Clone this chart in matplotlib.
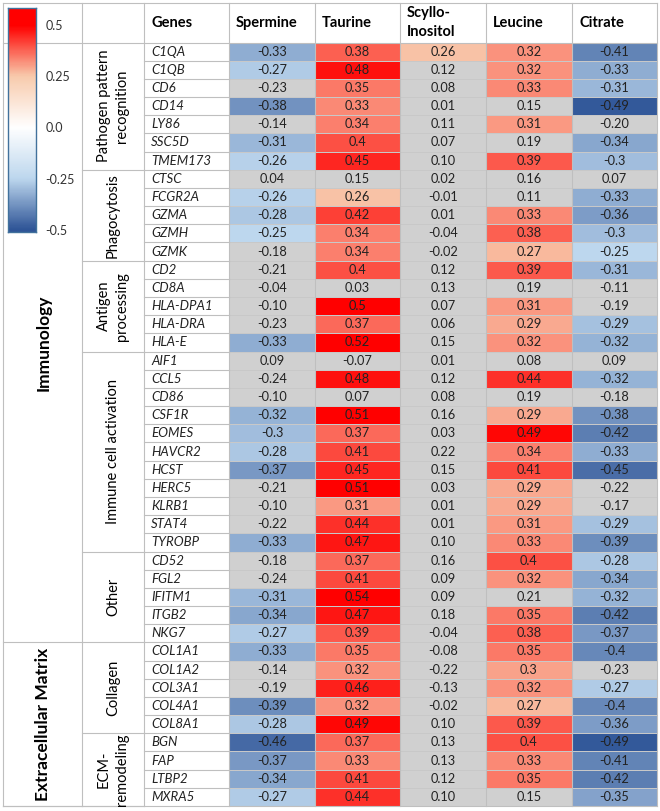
import numpy as np
import matplotlib
matplotlib.use("Agg")
import matplotlib.pyplot as plt
from matplotlib.colors import LinearSegmentedColormap, Normalize

plt.rcParams['font.family'] = ['Lato', 'DejaVu Sans']

metabolites = ["Spermine", "Taurine", "Scyllo-\nInositol", "Leucine", "Citrate"]

genes = ["C1QA", "C1QB", "CD6", "CD14", "LY86", "SSC5D", "TMEM173",
         "CTSC", "FCGR2A", "GZMA", "GZMH", "GZMK",
         "CD2", "CD8A", "HLA-DPA1", "HLA-DRA", "HLA-E",
         "AIF1", "CCL5", "CD86", "CSF1R", "EOMES", "HAVCR2", "HCST", "HERC5",
         "KLRB1", "STAT4", "TYROBP",
         "CD52", "FGL2", "IFITM1", "ITGB2", "NKG7",
         "COL1A1", "COL1A2", "COL3A1", "COL4A1", "COL8A1",
         "BGN", "FAP", "LTBP2", "MXRA5"]

# values kept as printed in the table
spermine = ["-0.33", "-0.27", "-0.23", "-0.38", "-0.14", "-0.31", "-0.26",
            "0.04", "-0.26", "-0.28", "-0.25", "-0.18",
            "-0.21", "-0.04", "-0.10", "-0.23", "-0.33",
            "0.09", "-0.24", "-0.10", "-0.32", "-0.3", "-0.28", "-0.37", "-0.21",
            "-0.10", "-0.22", "-0.33",
            "-0.18", "-0.24", "-0.31", "-0.34", "-0.27",
            "-0.33", "-0.14", "-0.19", "-0.39", "-0.28",
            "-0.46", "-0.37", "-0.34", "-0.27"]
taurine = ["0.38", "0.48", "0.35", "0.33", "0.34", "0.4", "0.45",
           "0.15", "0.26", "0.42", "0.34", "0.34",
           "0.4", "0.03", "0.5", "0.37", "0.52",
           "-0.07", "0.48", "0.07", "0.51", "0.37", "0.41", "0.45", "0.51",
           "0.31", "0.44", "0.47",
           "0.37", "0.41", "0.54", "0.47", "0.39",
           "0.35", "0.32", "0.46", "0.32", "0.49",
           "0.37", "0.33", "0.41", "0.44"]
scyllo = ["0.26", "0.12", "0.08", "0.01", "0.11", "0.07", "0.10",
          "0.02", "-0.01", "0.01", "-0.04", "-0.02",
          "0.12", "0.13", "0.07", "0.06", "0.15",
          "0.01", "0.12", "0.08", "0.16", "0.03", "0.22", "0.15", "0.03",
          "0.01", "0.01", "0.10",
          "0.16", "0.09", "0.09", "0.18", "-0.04",
          "-0.08", "-0.22", "-0.13", "-0.02", "0.10",
          "0.13", "0.13", "0.12", "0.10"]
leucine = ["0.32", "0.32", "0.33", "0.15", "0.31", "0.19", "0.39",
           "0.16", "0.11", "0.33", "0.38", "0.27",
           "0.39", "0.19", "0.31", "0.29", "0.32",
           "0.08", "0.44", "0.19", "0.29", "0.49", "0.34", "0.41", "0.29",
           "0.29", "0.31", "0.33",
           "0.4", "0.32", "0.21", "0.35", "0.38",
           "0.35", "0.3", "0.32", "0.27", "0.39",
           "0.4", "0.33", "0.35", "0.15"]
citrate = ["-0.41", "-0.33", "-0.31", "-0.49", "-0.20", "-0.34", "-0.3",
           "0.07", "-0.33", "-0.36", "-0.3", "-0.25",
           "-0.31", "-0.11", "-0.19", "-0.29", "-0.32",
           "0.09", "-0.32", "-0.18", "-0.38", "-0.42", "-0.33", "-0.45", "-0.22",
           "-0.17", "-0.29", "-0.39",
           "-0.28", "-0.34", "-0.32", "-0.42", "-0.37",
           "-0.4", "-0.23", "-0.27", "-0.4", "-0.36",
           "-0.49", "-0.41", "-0.42", "-0.35"]

subgroups = ["Pathogen pattern\nrecognition", "Phagocytosis", "Antigen\nprocessing",
             "Immune cell activation", "Other", "Collagen", "ECM-\nremodeling"]
subgroup_sizes = [7, 5, 5, 11, 5, 5, 4]
groups = ["Immunology", "Extracellular Matrix"]
group_sizes = [33, 9]

cbar_ticks = [0.5, 0.25, 0.0, -0.25, -0.5]
cbar_labels = ["0.5", "0.25", "0.0", "-0.25", "-0.5"]

labels = np.array([spermine, taurine, scyllo, leucine, citrate]).T
values = labels.astype(float)

# layout (pixels)
W, H = 660, 811
col_x = [3, 82, 144, 229, 315, 400, 486, 572, 657]
top, head_bot, bottom = 3, 42.5, 806
n = len(genes)
row_y = np.linspace(head_bot, bottom, n + 1)
line_c = "#BFBFBF"
lw = 0.8

cmap = LinearSegmentedColormap.from_list(
    "bwr_xl", [(0, "#2F5597"), (0.25, "#BDD7EE"), (0.5, "#FFFFFF"),
               (0.75, "#F8CBAD"), (1, "#FF0000")])
cmap.set_bad("#D0D0D0")
norm = Normalize(-0.5, 0.5)

fig = plt.figure(figsize=(W / 100, H / 100), dpi=100)
ax = fig.add_axes([0, 0, 1, 1])
ax.set_xlim(0, W)
ax.set_ylim(H, 0)
ax.axis("off")

shown = np.ma.masked_where(np.abs(values) < 0.25, values)
ax.pcolormesh(col_x[3:], row_y, shown, cmap=cmap, norm=norm,
              edgecolors="#C8C8C8", linewidth=0.7)

# values
for i in range(n):
    yc = (row_y[i] + row_y[i + 1]) / 2
    ax.text(col_x[2] + 7, yc, genes[i], style="italic", fontsize=9.5,
            va="center", ha="left", color="#222222")
    for j in range(len(metabolites)):
        xc = (col_x[3 + j] + col_x[4 + j]) / 2
        ax.text(xc, yc, labels[i, j], fontsize=9.2, va="center", ha="center",
                color="#222222")

# header
hy = (top + head_bot) / 2
ax.text(col_x[2] + 7, hy, "Genes", fontweight="bold", fontsize=10.5,
        va="center", ha="left")
for j, m in enumerate(metabolites):
    ax.text(col_x[3 + j] + 7, hy, m, fontweight="bold", fontsize=10.5,
            va="center", ha="left", linespacing=1.45)

# grid lines
for x in col_x:
    ax.plot([x, x], [top, bottom], color=line_c, lw=lw)
ax.plot([col_x[0], col_x[-1]], [top, top], color=line_c, lw=lw)
ax.plot([col_x[0], col_x[-1]], [head_bot, head_bot], color=line_c, lw=lw)
ax.plot([col_x[0], col_x[-1]], [bottom, bottom], color=line_c, lw=lw)
for y in row_y[1:-1]:
    ax.plot([col_x[2], col_x[3]], [y, y], color=line_c, lw=lw)

# subgroups
start = 0
for name, size in zip(subgroups, subgroup_sizes):
    y0, y1 = row_y[start], row_y[start + size]
    ax.plot([col_x[1], col_x[2]], [y1, y1], color=line_c, lw=lw)
    ax.text((col_x[1] + col_x[2]) / 2, (y0 + y1) / 2, name, rotation=90,
            fontsize=10.5, va="center", ha="center", multialignment="center",
            linespacing=1.45)
    start += size

# groups
start = 0
for name, size in zip(groups, group_sizes):
    y0, y1 = row_y[start], row_y[start + size]
    ax.plot([col_x[0], col_x[1]], [y1, y1], color=line_c, lw=lw)
    ax.text((col_x[0] + col_x[1]) / 2 + 1, (y0 + y1) / 2, name, rotation=90,
            fontsize=12.5, fontweight="bold", va="center", ha="center")
    start += size

# colour scale
cb_top, cb_bot = 8, 232
cax = fig.add_axes([8 / W, 1 - cb_bot / H, 28 / W, (cb_bot - cb_top) / H])
v_top = 0.5 + (25 - cb_top) / 205
v_bot = 0.5 - (cb_bot - 25) / 205
grad = np.linspace(v_top, v_bot, 300)[:, None]
cax.imshow(grad, cmap=cmap, norm=norm, aspect="auto",
           extent=[0, 1, v_bot, v_top])
cax.set_ylim(v_bot, v_top)
cax.set_xticks([])
cax.yaxis.tick_right()
cax.set_yticks(cbar_ticks)
cax.set_yticklabels(cbar_labels, fontsize=9, color="#333333")
cax.tick_params(axis="y", length=0, pad=7)
for s in cax.spines.values():
    s.set_color("#41719C")
    s.set_linewidth(1)

fig.savefig("out.png", dpi=100)
